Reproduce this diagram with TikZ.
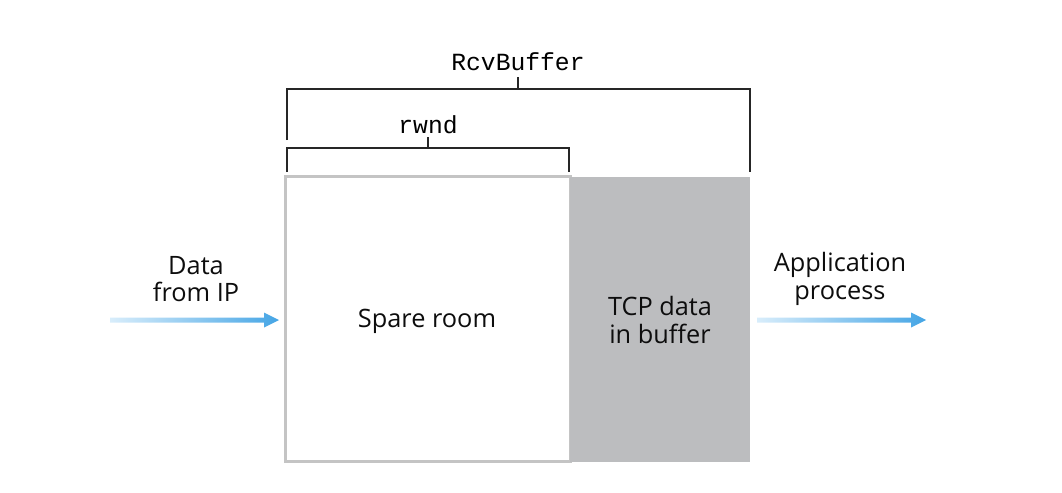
\documentclass[tikz,border=0pt]{standalone}
\usepackage{fontspec}
\setsansfont{Open Sans}
\setmonofont{Liberation Mono}
\usetikzlibrary{positioning,calc}
\definecolor{bufgray}{HTML}{BCBDBF}
\definecolor{edgegray}{HTML}{C4C4C4}
\definecolor{arrowlight}{HTML}{D8EDFB}
\definecolor{arrowblue}{HTML}{45A5E5}
\tikzset{
  sparebox/.style={draw=edgegray, line width=2.25pt, fill=white, minimum width=213.75pt, minimum height=214pt, inner sep=0pt},
  databox/.style={fill=bufgray, minimum width=135pt, minimum height=214pt, inner sep=0pt},
  boxtext/.style={font=\sffamily\fontsize{19}{20.5}\selectfont, align=center, text=black!95},
  brlabel/.style={font=\ttfamily\fontsize{18.5}{20}\selectfont, text=black},
  bracket/.style={line width=0.9pt, black!85},
  flowshade/.style={left color=arrowlight, right color=arrowblue}
}

\begin{document}
\begin{tikzpicture}[x=0.75pt, y=-0.75pt]
  \useasboundingbox (0,0) rectangle (1062,492);
  % the receive buffer
  \node[sparebox] (spare) at (427.5,319.25) {};
  \node[databox] (tcpdata) at (660,319.25) {};
  \node[boxtext] (sparetxt) at (427,321) {Spare room};
  \node[boxtext] (tcptxt) at (660,320) {TCP data\\in buffer};

  % brackets
  \node[brlabel] (rcvlbl) at (518,62) {RcvBuffer};
  \node[brlabel] (rwndlbl) at (428,125) {rwnd};
  \draw[bracket] (287,140) -- (287,89) -- (750,89) -- (750,172);
  \draw[bracket] (518,89) -- (518,77);
  \draw[bracket] (287,172) -- (287,148) -- (569,148) -- (569,172);
  \draw[bracket] (428,148) -- (428,137);

  % data flowing in and out
  \coordinate (inL) at (110,320);
  \coordinate (inR) at (279,320);
  \coordinate (outL) at (757,320);
  \coordinate (outR) at (926,320);
  \shade[flowshade] ($(inL)+(0,-2.5)$) -- ($(inR)+(-15,-2.5)$) -- ($(inR)+(-15,-7.5)$) -- (inR)
    -- ($(inR)+(-15,7.5)$) -- ($(inR)+(-15,2.5)$) -- ($(inL)+(0,2.5)$) -- cycle;
  \shade[flowshade] ($(outL)+(0,-2.5)$) -- ($(outR)+(-15,-2.5)$) -- ($(outR)+(-15,-7.5)$) -- (outR)
    -- ($(outR)+(-15,7.5)$) -- ($(outR)+(-15,2.5)$) -- ($(outL)+(0,2.5)$) -- cycle;
  \node[boxtext] (inlbl) at (196,279) {Data\\from IP};
  \node[boxtext] (outlbl) at (840,279) {Application\\process};
\end{tikzpicture}
\end{document}
